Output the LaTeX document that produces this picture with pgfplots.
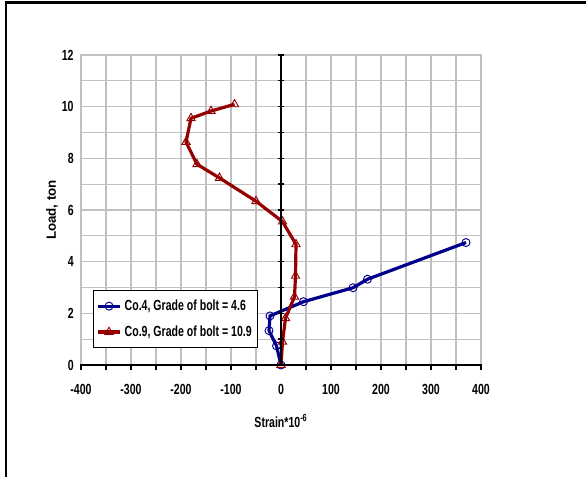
\documentclass[border=0pt]{standalone}
\usepackage{fontspec}
\setmainfont{Liberation Sans}[FakeStretch=0.72]
\newfontfamily\widefont{Liberation Sans}
\usepackage{pgfplots}
\pgfplotsset{compat=1.18}
\definecolor{cblue}{RGB}{0,0,140}
\definecolor{cred}{RGB}{150,0,0}
\definecolor{cgrid}{RGB}{192,192,192}
\begin{document}
\begin{tikzpicture}[x=1pt,y=1pt]
\useasboundingbox (0,0) rectangle (439.5,357.75);
\draw[line width=1.6pt] (4.5,0) -- (4.5,355.9) -- (439.5,355.9);
\begin{axis}[
  at={(60.75pt,84pt)}, anchor=south west,
  scale only axis, width=300pt, height=232.5pt,
  xmin=-400, xmax=400, ymin=0, ymax=12,
  xtick distance=100, ytick distance=2,
  minor x tick num=1, minor y tick num=1,
  grid=both,
  major grid style={cgrid, line width=0.8pt},
  minor grid style={cgrid, line width=0.8pt},
  axis line style={cgrid, line width=0.8pt},
  major tick length=0pt, minor tick length=0pt,
  /pgf/number format/assume math mode=true,
  tick label style={font=\bfseries\fontsize{11}{13}\selectfont, black},
  xticklabel style={yshift=-11pt},
  yticklabel style={xshift=-2pt},
  xlabel={\bfseries\fontsize{11}{13}\selectfont Strain*10\textsuperscript{-6}},
  xlabel style={yshift=-8pt},
  ylabel={\widefont\bfseries\fontsize{10}{12}\selectfont Load, ton},
  ylabel style={yshift=-4pt},
  legend cell align=left,
  legend style={at={(axis cs:-376,2.90)}, anchor=north west, draw=black, line width=0.6pt, fill=white,
    font=\bfseries\fontsize{11}{13}\selectfont, row sep=6pt, inner xsep=2pt, inner ysep=5pt,
    nodes={inner xsep=2pt}},
]
\addplot[cblue, line width=2.4pt, mark=o, mark size=3pt, mark options={fill=white, line width=0.7pt, solid}]
coordinates {(0,0) (-9,0.74) (-24,1.33) (-22,1.90) (45,2.45) (144,2.99) (173,3.32) (370,4.74)};
\addlegendentry{Co.4, Grade of bolt = 4.6}
\addplot[cred, line width=2.4pt, mark=triangle, mark size=3.6pt, mark options={fill=white, line width=0.7pt, solid}]
coordinates {(0,0) (3,0.90) (9,1.81) (27,2.64) (29,3.45) (30,4.67) (3,5.55) (-50,6.34) (-123,7.24) (-168,7.77) (-190,8.63) (-180,9.55) (-140,9.83) (-93,10.09)};
\addlegendentry{Co.9, Grade of bolt = 10.9}
\end{axis}
\begin{axis}[
  at={(60.75pt,84pt)}, anchor=south west,
  scale only axis, width=300pt, height=232.5pt,
  xmin=-400, xmax=400, ymin=0, ymax=12,
  axis x line=middle, axis y line=middle,
  axis line style={black, line width=1.6pt, -},
  xtick distance=50, ytick distance=1,
  xticklabels={}, yticklabels={},
  tick align=center, major tick length=4pt,
  tick style={black, line width=1pt},
  x tick style={yshift=-1.5pt},
]
\end{axis}
\end{tikzpicture}
\end{document}
